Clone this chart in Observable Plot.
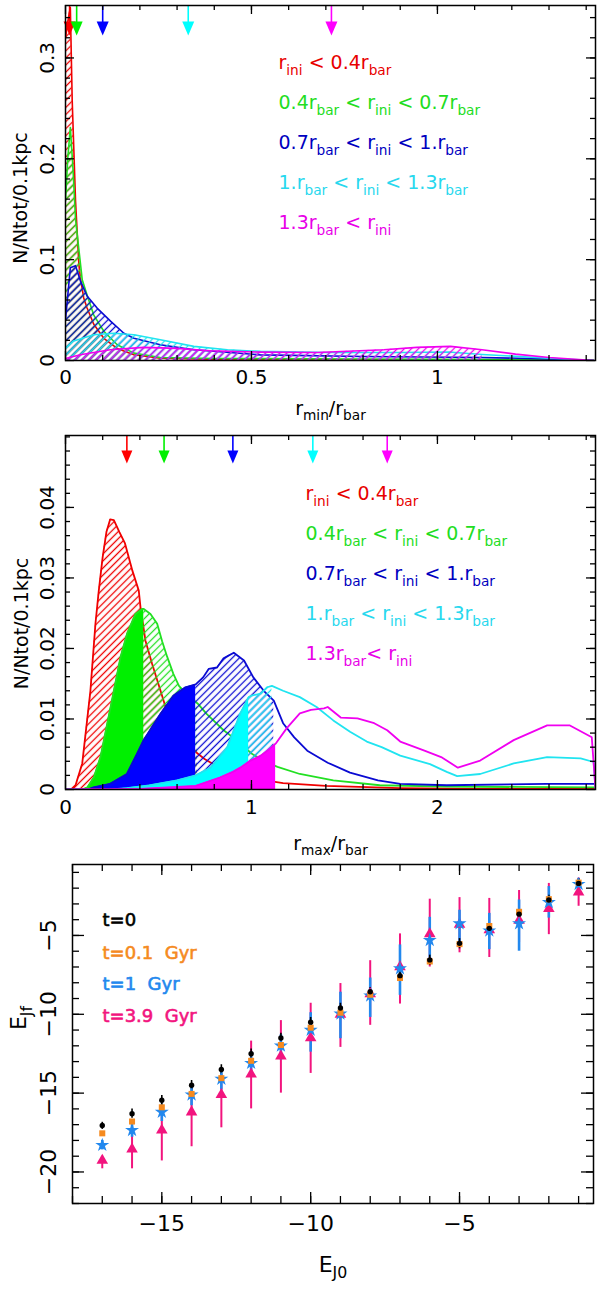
<!DOCTYPE html>
<html><head><meta charset="utf-8">
<script src="https://cdn.jsdelivr.net/npm/d3@7"></script>
<script src="https://cdn.jsdelivr.net/npm/@observablehq/plot@0.6"></script>
<style>
body{margin:0;background:#fff;}
#chart{width:600px;}
#chart svg{display:block;}
svg text{white-space:pre;}
</style></head><body>
<svg width="0" height="0" style="position:absolute" id="defs-holder"><defs id="hdefs"></defs></svg>
<div id="chart"></div>
<script>
// ---------- colours ----------
const seriesNames = ["red","green","blue","cyan","magenta"];
const lineColors  = {red:"#f00000", green:"#22e022", blue:"#0a0ad2", cyan:"#20e4f0", magenta:"#f000f0"};
const fillColors  = {red:"#ff0000", green:"#00f000", blue:"#0000ff", cyan:"#00ffff", magenta:"#ff00ff"};
const textColors  = {red:"#e80000", green:"#22dd22", blue:"#0000c0", cyan:"#28d8ee", magenta:"#e800e8"};

// ---------- panel 1 : r_min / r_bar ----------
const topRed = [[0,0.32],[0.008,0.34],[0.013,0.35],[0.018,0.258],[0.027,0.158],[0.036,0.095],[0.04,0.082],[0.049,0.062],[0.058,0.052],[0.076,0.036],[0.103,0.022],[0.139,0.012],[0.184,0.0057],[0.255,0.0023],[0.4,0.0012],[0.8,0.0008],[1.2,0.0005],[1.42,0]];
const topGreen = [[0,0.158],[0.006,0.2],[0.013,0.231],[0.02,0.191],[0.027,0.14],[0.036,0.11],[0.045,0.08],[0.058,0.065],[0.076,0.045],[0.103,0.029],[0.139,0.0156],[0.184,0.0073],[0.255,0.003],[0.4,0.002],[0.8,0.0015],[1.2,0.001],[1.42,0]];
const topBlue = [[0,0.04],[0.005,0.06],[0.013,0.092],[0.027,0.094],[0.04,0.079],[0.058,0.064],[0.085,0.052],[0.121,0.039],[0.157,0.027],[0.184,0.022],[0.255,0.0156],[0.345,0.0106],[0.524,0.0056],[0.8,0.004],[1.12,0.003],[1.3,0.0015],[1.42,0]];
const topCyan = [[0,0.012],[0.02,0.019],[0.076,0.0255],[0.13,0.027],[0.184,0.0255],[0.255,0.0206],[0.345,0.014],[0.435,0.0106],[0.524,0.009],[0.7,0.008],[0.9,0.008],[1.03,0.0085],[1.12,0.006],[1.3,0.0023],[1.42,0]];
const topMagenta = [[0,0.002],[0.04,0.0057],[0.12,0.0106],[0.21,0.013],[0.30,0.012],[0.39,0.0096],[0.524,0.0083],[0.677,0.008],[0.856,0.0106],[0.945,0.013],[1.035,0.014],[1.12,0.0106],[1.21,0.0063],[1.30,0.003],[1.39,0.0007],[1.42,0]];
const topHatchEnd = {red:0.255, green:0.255, blue:0.524, cyan:1.12, magenta:1.12};
const topArrowX = {red:0.011, green:0.03, blue:0.10, cyan:0.33, magenta:0.715};
const topXTicks = [0, 0.5, 1];
const topYTicks = [0, 0.1, 0.2, 0.3];

// ---------- panel 2 : r_max / r_bar ----------
const midRed = [[0,0],[0.03,0],[0.054,0.0006],[0.09,0.0037],[0.134,0.014],[0.161,0.0235],[0.179,0.0282],[0.2,0.033],[0.22,0.0365],[0.24,0.0383],[0.26,0.0382],[0.29,0.0365],[0.32,0.0349],[0.36,0.031],[0.394,0.0282],[0.403,0.0259],[0.43,0.0211],[0.466,0.0178],[0.511,0.014],[0.538,0.0117],[0.57,0.0098],[0.62,0.0078],[0.67,0.0063],[0.71,0.0051],[0.75,0.0043],[0.82,0.0032],[0.9,0.0023],[1.0,0.0016],[1.17,0.0009],[1.4,0.0005],[1.8,0.0002],[2.2,0.0001],[2.85,0.0001]];
const midGreen = [[0,0],[0.09,0],[0.117,0.0003],[0.152,0.0017],[0.188,0.0046],[0.224,0.0093],[0.26,0.014],[0.296,0.0188],[0.331,0.0221],[0.376,0.0249],[0.412,0.0256],[0.421,0.0256],[0.457,0.0249],[0.493,0.0235],[0.52,0.021],[0.547,0.0188],[0.58,0.0164],[0.61,0.0147],[0.645,0.0137],[0.71,0.0122],[0.76,0.0107],[0.815,0.0093],[0.85,0.0084],[0.92,0.007],[1.0,0.0051],[1.07,0.004],[1.14,0.0032],[1.26,0.0022],[1.44,0.0013],[1.69,0.0006],[2.05,0.0004],[2.85,0.0003]];
const midBlue = [[0,0],[0.12,0],[0.15,0.0003],[0.24,0.0008],[0.33,0.0022],[0.385,0.0051],[0.42,0.007],[0.51,0.0107],[0.58,0.0133],[0.645,0.0145],[0.70,0.0149],[0.74,0.0159],[0.77,0.0171],[0.815,0.0173],[0.85,0.0186],[0.905,0.0194],[0.96,0.0183],[1.01,0.0159],[1.066,0.014],[1.12,0.0126],[1.17,0.0094],[1.23,0.0074],[1.30,0.0055],[1.41,0.0038],[1.53,0.0024],[1.68,0.0013],[1.8,0.0008],[2.05,0.0006],[2.59,0.0008],[2.85,0.0008]];
const midCyan = [[0,0],[0.25,0],[0.33,0.0002],[0.45,0.0006],[0.6,0.0013],[0.70,0.002],[0.78,0.0031],[0.87,0.006],[0.94,0.0108],[0.985,0.0131],[1.0,0.0133],[1.05,0.0136],[1.085,0.0145],[1.11,0.0147],[1.17,0.014],[1.26,0.0131],[1.35,0.0117],[1.44,0.0098],[1.53,0.0082],[1.62,0.0068],[1.70,0.006],[1.80,0.0048],[1.96,0.0036],[2.05,0.0025],[2.106,0.0019],[2.23,0.0022],[2.41,0.0037],[2.59,0.0046],[2.77,0.0044],[2.84,0.0039],[2.85,0]];
const midMagenta = [[0,0],[0.4,0.0001],[0.7,0.0005],[0.83,0.0017],[0.9,0.0025],[0.94,0.0031],[0.995,0.0041],[1.05,0.0048],[1.085,0.0055],[1.13,0.0065],[1.19,0.0087],[1.26,0.0108],[1.32,0.0113],[1.39,0.0115],[1.41,0.0117],[1.48,0.0102],[1.57,0.0101],[1.66,0.0094],[1.73,0.0084],[1.80,0.0068],[1.93,0.0055],[2.02,0.0046],[2.11,0.0031],[2.23,0.0041],[2.41,0.007],[2.59,0.0091],[2.71,0.0091],[2.83,0.0074],[2.85,0]];
const midSolid = {red:null, green:[0,0.421], blue:[0,0.70], cyan:[0,0.985], magenta:[0,1.13]};
const midHatch = {red:[0,0.71], green:[0.421,0.71], blue:[0.70,1.12], cyan:[0.985,1.11], magenta:null};
const midArrowX = {red:0.33, green:0.53, blue:0.90, cyan:1.33, magenta:1.73};
const midXTicks = [0, 1, 2];
const midYTicks = [0, 0.01, 0.02, 0.03, 0.04];

const legendTop = ["r_{ini} < 0.4r_{bar}","0.4r_{bar} < r_{ini} < 0.7r_{bar}","0.7r_{bar} < r_{ini} < 1.r_{bar}","1.r_{bar} < r_{ini} < 1.3r_{bar}","1.3r_{bar} < r_{ini}"];
const legendMid = ["r_{ini} < 0.4r_{bar}","0.4r_{bar} < r_{ini} < 0.7r_{bar}","0.7r_{bar} < r_{ini} < 1.r_{bar}","1.r_{bar} < r_{ini} < 1.3r_{bar}","1.3r_{bar}< r_{ini}"];

// ---------- panel 3 : E_J ----------
const ej0 = [-17,-16,-15,-14,-13,-12,-11,-10,-9,-8,-7,-6,-5,-4,-3,-2,-1];
const ejBlack  = [-17.05,-16.3,-15.45,-14.5,-13.5,-12.5,-11.5,-10.5,-9.6,-8.57,-7.55,-6.55,-5.5,-4.55,-3.65,-2.75,-1.7];
const ejBlackLo= [-17.3,-16.6,-15.75,-14.8,-13.8,-12.8,-11.8,-10.8,-9.9,-8.85,-7.85,-6.9,-5.85,-4.85,-3.95,-3.0,-1.95];
const ejBlackHi= [-16.85,-16.0,-15.15,-14.2,-13.2,-12.2,-11.2,-10.2,-9.3,-8.3,-7.25,-6.25,-5.2,-4.25,-3.35,-2.45,-1.4];
const ejOrange = [-17.55,-16.8,-15.9,-15.05,-14.05,-12.95,-11.95,-10.85,-9.9,-8.76,-7.7,-6.65,-5.55,-4.4,-3.5,-2.7,-1.65];
const ejBlue   = [-18.3,-17.35,-16.2,-15.1,-14.1,-13.1,-12.0,-11.0,-9.97,-8.82,-7.1,-5.3,-4.25,-4.7,-4.25,-2.9,-1.75];
const ejBlueLo = [-18.6,-17.8,-16.8,-15.8,-14.8,-13.8,-12.9,-12.4,-11.55,-10.2,-8.8,-6.4,-5.75,-5.9,-6.0,-3.9,-2.2];
const ejBlueHi = [-18.0,-16.9,-15.7,-14.6,-13.6,-12.4,-11.3,-9.9,-8.6,-7.7,-5.6,-3.85,-3.4,-3.6,-2.75,-1.9,-1.4];
const ejPink   = [-19.27,-18.55,-17.35,-16.2,-15.1,-13.8,-12.65,-11.5,-10.0,-8.7,-7.0,-4.9,-4.3,-4.65,-4.05,-3.3,-2.25];
const ejPinkLo = [-19.8,-19.8,-19.3,-18.4,-17.2,-16.0,-15.0,-13.75,-12.1,-10.7,-9.35,-7.0,-6.1,-6.4,-5.45,-4.95,-3.15];
const ejPinkHi = [-19.0,-17.6,-16.1,-15.0,-13.8,-11.7,-10.4,-9.3,-8.05,-6.6,-4.9,-2.7,-2.6,-2.65,-2.15,-1.7,-1.35];
const ejLegend = ["t=0","t=0.1  Gyr","t=1  Gyr","t=3.9  Gyr"];
const ejColors = ["#000000","#f58a1f","#2288ee","#f2147e"];
const ejXTicks = [-15, -10, -5];
const ejYTicks = [-20, -15, -10, -5];

// ---------- helpers ----------
const FONT = "DejaVu Sans";
const minus = d => d < 0 ? "\u2212" + Math.abs(d) : String(d);

// hatch patterns
const hdefs = d3.select("#hdefs");
for (const n of seriesNames) {
  const p = hdefs.append("pattern").attr("id", "hatch-" + n)
    .attr("patternUnits", "userSpaceOnUse").attr("width", 5).attr("height", 5)
    .attr("patternTransform", "rotate(45)");
  p.append("line").attr("x1", 2.5).attr("y1", -1).attr("x2", 2.5).attr("y2", 6)
    .attr("stroke", lineColors[n]).attr("stroke-width", 1.3);
}

const arrowHead = (w, h) => ({draw(ctx) { ctx.moveTo(-w, -h); ctx.lineTo(w, -h); ctx.lineTo(0, 0); ctx.closePath(); }});

function frameTicks(xMaj, xMin, yMaj, yMin, fw, fh, majX, minX, majY, minY) {
  const s = {stroke: "black", strokeWidth: 1.3};
  return [
    Plot.ruleX(xMin, {...s, insetTop: fh - minX}), Plot.ruleX(xMin, {...s, insetBottom: fh - minX}),
    Plot.ruleX(xMaj, {...s, insetTop: fh - majX}), Plot.ruleX(xMaj, {...s, insetBottom: fh - majX}),
    Plot.ruleY(yMin, {...s, insetRight: fw - minY}), Plot.ruleY(yMin, {...s, insetLeft: fw - minY}),
    Plot.ruleY(yMaj, {...s, insetRight: fw - majY}), Plot.ruleY(yMaj, {...s, insetLeft: fw - majY})
  ];
}

const X = d => d[0], Y = d => d[1];
const inRange = (arr, r) => arr.filter(d => d[0] >= r[0] && d[0] <= r[1]);

// ---------- panel 1 ----------
const topData = {red: topRed, green: topGreen, blue: topBlue, cyan: topCyan, magenta: topMagenta};
const p1marks = [];
for (const n of seriesNames) {
  p1marks.push(Plot.areaY(inRange(topData[n], [0, topHatchEnd[n]]), {x: X, y: Y, fill: `url(#hatch-${n})`, clip: true}));
  p1marks.push(Plot.lineY(topData[n], {x: X, y: Y, stroke: lineColors[n], strokeWidth: 1.6, clip: true}));
}
for (const n of seriesNames) {
  p1marks.push(Plot.ruleX([topArrowX[n]], {stroke: fillColors[n], strokeWidth: 1.6, insetBottom: 355 - 22}));
  p1marks.push(Plot.dot([topArrowX[n]], {x: d => d, frameAnchor: "top", dy: 30, symbol: arrowHead(6, 14), fill: fillColors[n], stroke: "none"}));
}
legendTop.forEach((t, i) => {
  p1marks.push(Plot.text([t], {frameAnchor: "top-left", textAnchor: "start", dx: 213, dy: 50 + 40 * i, fill: textColors[seriesNames[i]], fontSize: 19}));
});
const p1 = Plot.plot({
  width: 600, height: 420, marginTop: 5, marginBottom: 60, marginLeft: 65, marginRight: 5,
  x: {domain: [0, 1.425]}, y: {domain: [0, 0.352]},
  style: {fontFamily: FONT, fontSize: "20px", background: "white", overflow: "visible"},
  marks: [
    ...p1marks,
    ...frameTicks(topXTicks, d3.range(0.1, 1.42, 0.1), topYTicks, d3.range(0.02, 0.35, 0.02), 530, 355, 9, 5, 9, 5),
    Plot.frame({stroke: "black", strokeWidth: 1.5}),
    Plot.axisX(topXTicks, {tickSize: 0, tickPadding: 9, fontSize: 20, tickFormat: d => String(d), label: null}),
    Plot.axisY(topYTicks, {tickSize: 0, tickPadding: 18, fontSize: 20, rotate: -90, textAnchor: "middle", tickFormat: d => String(d), label: null}),
    Plot.text(["r_{min}/r_{bar}"], {frameAnchor: "bottom", dy: 54, fontSize: 19, fill: "black"}),
    Plot.text(["N/Ntot/0.1kpc"], {frameAnchor: "left", textAnchor: "middle", rotate: -90, dx: -45, dy: 15, fontSize: 19, fill: "black"})
  ]
});

// ---------- panel 2 ----------
const midData = {red: midRed, green: midGreen, blue: midBlue, cyan: midCyan, magenta: midMagenta};
const p2marks = [];
for (const n of seriesNames) {
  if (midSolid[n]) p2marks.push(Plot.areaY(inRange(midData[n], midSolid[n]), {x: X, y: Y, fill: fillColors[n], clip: true}));
  if (midHatch[n]) p2marks.push(Plot.areaY(inRange(midData[n], midHatch[n]), {x: X, y: Y, fill: `url(#hatch-${n})`, clip: true}));
  p2marks.push(Plot.lineY(midData[n], {x: X, y: Y, stroke: lineColors[n], strokeWidth: 1.8, clip: true}));
}
for (const n of seriesNames) {
  p2marks.push(Plot.ruleX([midArrowX[n]], {stroke: fillColors[n], strokeWidth: 1.6, insetBottom: 354 - 20}));
  p2marks.push(Plot.dot([midArrowX[n]], {x: d => d, frameAnchor: "top", dy: 28, symbol: arrowHead(5.5, 13), fill: fillColors[n], stroke: "none"}));
}
legendMid.forEach((t, i) => {
  p2marks.push(Plot.text([t], {frameAnchor: "top-left", textAnchor: "start", dx: 240, dy: 51 + 40 * i, fill: textColors[seriesNames[i]], fontSize: 19}));
});
const p2 = Plot.plot({
  width: 600, height: 440, marginTop: 15, marginBottom: 71, marginLeft: 65, marginRight: 5,
  x: {domain: [0, 2.85]}, y: {domain: [0, 0.0502]},
  style: {fontFamily: FONT, fontSize: "20px", background: "white", overflow: "visible"},
  marks: [
    ...p2marks,
    ...frameTicks(midXTicks, d3.range(0.2, 2.85, 0.2), midYTicks, d3.range(0.002, 0.0501, 0.002), 530, 354, 9, 5, 9, 5),
    Plot.frame({stroke: "black", strokeWidth: 1.5}),
    Plot.axisX(midXTicks, {tickSize: 0, tickPadding: 10, fontSize: 20, tickFormat: d => String(d), label: null}),
    Plot.axisY(midYTicks, {tickSize: 0, tickPadding: 18, fontSize: 20, rotate: -90, textAnchor: "middle", tickFormat: d => String(d), label: null}),
    Plot.text(["r_{max}/r_{bar}"], {frameAnchor: "bottom", dy: 60, fontSize: 19, fill: "black"}),
    Plot.text(["N/Ntot/0.1kpc"], {frameAnchor: "left", textAnchor: "middle", rotate: -90, dx: -44, dy: 11, fontSize: 19, fill: "black"})
  ]
});

// ---------- panel 3 ----------
const ejRows = ej0.map((x, i) => ({x, black: ejBlack[i], bLo: ejBlackLo[i], bHi: ejBlackHi[i], orange: ejOrange[i],
  blue: ejBlue[i], uLo: ejBlueLo[i], uHi: ejBlueHi[i], pink: ejPink[i], pLo: ejPinkLo[i], pHi: ejPinkHi[i]}));
const p3marks = [
  Plot.ruleX(ejRows, {x: "x", y1: "pLo", y2: "pHi", stroke: ejColors[3], strokeWidth: 2}),
  Plot.ruleX(ejRows, {x: "x", y1: "uLo", y2: "uHi", stroke: ejColors[2], strokeWidth: 2.6}),
  Plot.ruleX(ejRows, {x: "x", y1: "bLo", y2: "bHi", stroke: ejColors[0], strokeWidth: 1.6}),
  Plot.dot(ejRows, {x: "x", y: "pink", symbol: "triangle", r: 4.3, fill: ejColors[3], stroke: "none"}),
  Plot.dot(ejRows, {x: "x", y: "blue", symbol: "star", r: 4.4, fill: ejColors[2], stroke: "none"}),
  Plot.dot(ejRows, {x: "x", y: "orange", symbol: "square", r: 3.4, fill: ejColors[1], stroke: "none"}),
  Plot.dot(ejRows, {x: "x", y: "black", r: 2.7, fill: ejColors[0], stroke: "none"})
];
const ejLegendDy = [49, 82, 113, 145];
ejLegend.forEach((t, i) => {
  p3marks.push(Plot.text([t], {frameAnchor: "top-left", textAnchor: "start", dx: 30, dy: ejLegendDy[i], fill: ejColors[i], stroke: ejColors[i], strokeWidth: 0.6, fontSize: 18}));
});
const p3 = Plot.plot({
  width: 600, height: 430, marginTop: 4, marginBottom: 87, marginLeft: 72, marginRight: 7,
  x: {domain: [-18, -0.5]}, y: {domain: [-22, -0.5]},
  style: {fontFamily: FONT, fontSize: "20px", background: "white", overflow: "visible"},
  marks: [
    ...p3marks,
    ...frameTicks(ejXTicks, d3.range(-18, 0, 1), ejYTicks, d3.range(-22, 0, 1), 521, 339, 11, 7, 12, 7),
    Plot.frame({stroke: "black", strokeWidth: 1.5}),
    Plot.axisX(ejXTicks, {tickSize: 0, tickPadding: 12, fontSize: 22, tickFormat: minus, label: null}),
    Plot.axisY(ejYTicks, {tickSize: 0, tickPadding: 24, fontSize: 22, rotate: -90, textAnchor: "middle", tickFormat: minus, label: null}),
    Plot.text(["E_{J0}"], {frameAnchor: "bottom", dy: 68, fontSize: 22, fill: "black"}),
    Plot.text(["E_{Jf}"], {frameAnchor: "left", textAnchor: "middle", rotate: -90, dx: -54, dy: -16, fontSize: 22, fill: "black"})
  ]
});

const chart = document.getElementById("chart");
chart.append(p1, p2, p3);

// ---------- subscripts ----------
function subscriptify(root) {
  root.querySelectorAll("text").forEach(el => {
    const s = el.textContent;
    if (!s.includes("_{")) return;
    const fs = parseFloat(getComputedStyle(el).fontSize) || 18;
    const shift = 0.3 * fs;
    const parts = s.split(/(_\{[^}]*\})/).filter(p => p.length);
    while (el.firstChild) el.removeChild(el.firstChild);
    let sub = false;
    for (const p of parts) {
      const ts = document.createElementNS("http://www.w3.org/2000/svg", "tspan");
      if (p.startsWith("_{")) {
        ts.textContent = p.slice(2, -1);
        ts.setAttribute("font-size", (0.72 * fs).toFixed(1));
        if (!sub) ts.setAttribute("dy", shift.toFixed(1));
        sub = true;
      } else {
        ts.textContent = p;
        if (sub) ts.setAttribute("dy", (-shift).toFixed(1));
        sub = false;
      }
      el.appendChild(ts);
    }
  });
}
subscriptify(chart);
</script></body></html>
